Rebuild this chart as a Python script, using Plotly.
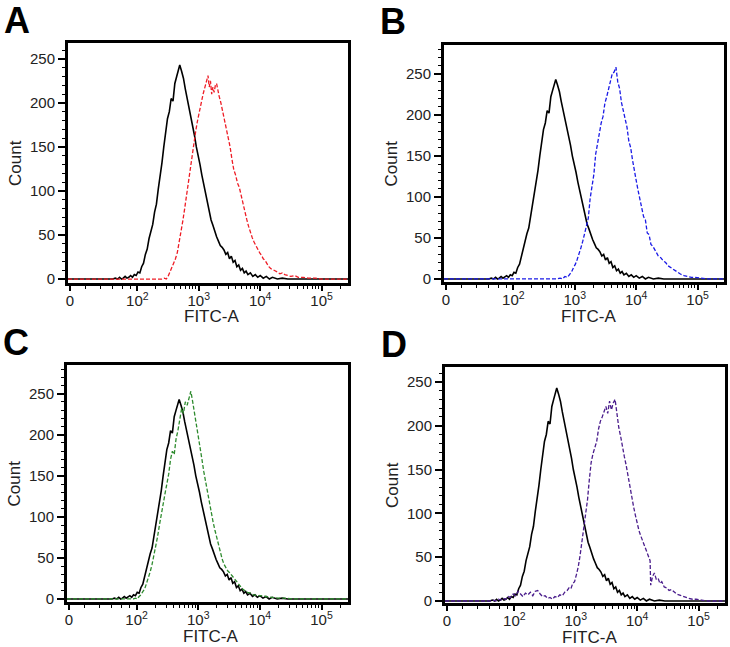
import plotly.graph_objects as go
import math

# ---------------- data (x = log10 display position of FITC-A, y = count) -------------
# control (unstained) histogram, same in every panel
CTRL_X = [0.87, 1.60, 1.64, 1.68, 1.71, 1.74, 1.77, 1.80, 1.83, 1.86, 1.89, 1.92, 1.95, 1.98,
          2.01, 2.04, 2.07, 2.10, 2.13, 2.16, 2.19, 2.22, 2.25, 2.28, 2.31, 2.34, 2.37, 2.40,
          2.43, 2.46, 2.49, 2.52, 2.55, 2.58, 2.61, 2.64, 2.67, 2.69, 2.72, 2.75, 2.78, 2.81,
          2.84, 2.87, 2.90, 2.93, 2.96, 2.99, 3.02, 3.05, 3.08, 3.11, 3.14, 3.17, 3.20, 3.23,
          3.26, 3.29, 3.32, 3.35, 3.38, 3.41, 3.44, 3.47, 3.50, 3.53, 3.56, 3.59, 3.62, 3.65,
          3.68, 3.71, 3.74, 3.77, 3.80, 3.84, 3.88, 3.92, 3.96, 4.00, 4.05, 4.10, 4.15, 4.20,
          4.28, 4.36, 4.45, 5.45]
CTRL_Y = [0, 0, 1, 0, 2, 0, 1, 3, 1, 2, 4, 2, 5, 4,
          8, 7, 14, 18, 28, 34, 46, 55, 62, 76, 85, 102, 115, 132,
          150, 166, 182, 190, 205, 202, 222, 230, 238, 243, 236, 228, 216, 206,
          192, 182, 172, 163, 150, 141, 130, 118, 108, 96, 86, 76, 67, 61,
          54, 48, 43, 38, 36, 33, 28, 30, 23, 26, 19, 21, 14, 16,
          10, 12, 7, 9, 5, 7, 3, 5, 2, 4, 1, 3, 0, 2,
          0, 1, 0, 0]

# panel A (red)
RED_X = [0.87, 2.40, 2.44, 2.47, 2.50, 2.53, 2.56, 2.59, 2.62, 2.65, 2.68, 2.71, 2.74, 2.77,
         2.80, 2.83, 2.86, 2.89, 2.92, 2.95, 2.98, 3.01, 3.04, 3.07, 3.10, 3.13, 3.15, 3.17,
         3.19, 3.21, 3.23, 3.25, 3.27, 3.29, 3.31, 3.33, 3.36, 3.39, 3.42, 3.45, 3.48, 3.51,
         3.54, 3.57, 3.60, 3.63, 3.66, 3.69, 3.72, 3.75, 3.78, 3.81, 3.84, 3.87, 3.90, 3.93,
         3.96, 3.99, 4.02, 4.05, 4.08, 4.11, 4.14, 4.17, 4.20, 4.24, 4.28, 4.32, 4.36, 4.40,
         4.45, 4.50, 4.56, 4.62, 4.70, 4.78, 4.90, 5.00, 5.45]
RED_Y = [0, 0, 1, 0, 3, 8, 12, 17, 23, 30, 42, 50, 66, 80,
         95, 112, 128, 142, 155, 168, 180, 192, 200, 210, 218, 226, 231, 218,
         225, 210, 218, 212, 220, 222, 214, 208, 200, 190, 182, 172, 158, 150,
         136, 124, 118, 109, 104, 94, 86, 77, 68, 60, 53, 47, 42, 38,
         33, 30, 27, 23, 21, 17, 14, 12, 11, 9, 8, 6, 7, 5,
         4, 3, 4, 2, 2, 1, 1, 0, 0]

# panel B (blue)
BLUE_X = [0.87, 2.70, 2.76, 2.80, 2.84, 2.88, 2.92, 2.95, 2.98, 3.01, 3.04, 3.07, 3.10, 3.13,
          3.16, 3.19, 3.22, 3.25, 3.28, 3.31, 3.34, 3.37, 3.40, 3.43, 3.46, 3.49, 3.52, 3.55,
          3.58, 3.61, 3.64, 3.67, 3.70, 3.73, 3.76, 3.79, 3.82, 3.85, 3.88, 3.91, 3.94, 3.97,
          4.00, 4.03, 4.06, 4.09, 4.12, 4.15, 4.18, 4.21, 4.24, 4.27, 4.30, 4.33, 4.36, 4.40,
          4.44, 4.48, 4.52, 4.56, 4.60, 4.64, 4.68, 4.72, 4.78, 4.84, 4.90, 4.96, 5.05, 5.15,
          5.45]
BLUE_Y = [0, 0, 1, 0, 3, 2, 6, 9, 14, 18, 24, 30, 38, 46,
          55, 64, 74, 98, 112, 127, 152, 166, 180, 190, 198, 214, 222, 232,
          238, 250, 252, 258, 240, 232, 215, 205, 194, 185, 168, 160, 145, 130,
          120, 108, 96, 88, 76, 72, 56, 54, 42, 40, 35, 32, 28, 26,
          22, 20, 16, 14, 11, 10, 7, 6, 4, 3, 2, 2, 1, 0,
          0]

# panel C (green)
GREEN_X = [0.87, 1.95, 1.98, 2.01, 2.04, 2.07, 2.10, 2.13, 2.16, 2.19, 2.22, 2.25, 2.28, 2.31,
           2.34, 2.37, 2.40, 2.43, 2.46, 2.49, 2.52, 2.55, 2.58, 2.61, 2.64, 2.67, 2.70, 2.73,
           2.76, 2.79, 2.82, 2.85, 2.88, 2.91, 2.94, 2.97, 3.00, 3.03, 3.06, 3.09, 3.12, 3.15,
           3.18, 3.21, 3.24, 3.27, 3.30, 3.33, 3.36, 3.39, 3.42, 3.45, 3.48, 3.51, 3.54, 3.57,
           3.60, 3.63, 3.66, 3.69, 3.72, 3.76, 3.80, 3.85, 3.90, 3.96, 4.02, 4.10, 4.20, 4.30,
           4.40, 4.55, 5.45]
GREEN_Y = [0, 0, 1, 0, 3, 5, 9, 12, 19, 25, 33, 42, 52, 64,
           76, 90, 104, 116, 128, 140, 152, 170, 180, 176, 195, 205, 220, 232,
           226, 240, 236, 246, 253, 240, 228, 212, 198, 186, 170, 155, 142, 128,
           116, 104, 94, 84, 74, 64, 56, 48, 42, 38, 34, 32, 29, 26,
           24, 20, 17, 15, 12, 10, 8, 7, 5, 4, 4, 3, 2, 1,
           1, 0, 0]

# panel D (purple)
PURPLE_X = [0.87, 1.60, 1.66, 1.70, 1.74, 1.78, 1.82, 1.86, 1.90, 1.94, 1.98, 2.02, 2.06, 2.10,
            2.14, 2.18, 2.22, 2.26, 2.30, 2.34, 2.38, 2.42, 2.46, 2.50, 2.54, 2.58, 2.62, 2.66,
            2.70, 2.74, 2.78, 2.82, 2.86, 2.89, 2.92, 2.95, 2.98, 3.01, 3.04, 3.07, 3.10, 3.13,
            3.16, 3.19, 3.22, 3.25, 3.28, 3.31, 3.34, 3.37, 3.40, 3.43, 3.46, 3.49, 3.52, 3.55,
            3.58, 3.61, 3.64, 3.67, 3.70, 3.73, 3.76, 3.79, 3.82, 3.85, 3.88, 3.91, 3.94, 3.97,
            4.00, 4.03, 4.06, 4.09, 4.12, 4.15, 4.18, 4.21, 4.22, 4.25, 4.28, 4.31, 4.34, 4.37,
            4.40, 4.44, 4.48, 4.52, 4.56, 4.60, 4.64, 4.68, 4.72, 4.78, 4.84, 4.90, 4.96, 5.05,
            5.15, 5.45]
PURPLE_Y = [0, 0, 1, 0, 2, 1, 3, 2, 5, 4, 8, 6, 11, 8,
            5, 9, 7, 10, 6, 11, 12, 8, 5, 6, 3, 4, 2, 5,
            4, 7, 6, 10, 12, 15, 14, 20, 22, 30, 39, 52, 68, 85,
            100, 115, 138, 158, 168, 176, 182, 196, 205, 210, 216, 222, 214, 228,
            218, 226, 230, 212, 198, 188, 174, 165, 155, 142, 130, 120, 108, 98,
            88, 80, 74, 68, 64, 58, 52, 46, 18, 28, 32, 25, 26, 20,
            22, 16, 15, 12, 13, 10, 8, 7, 6, 4, 3, 2, 2, 1,
            0, 0]

X_TICKVALS = [0.9, 2, 3, 4, 5]
X_TICKTEXT = ["0", "10<sup>2</sup>", "10<sup>3</sup>", "10<sup>4</sup>", "10<sup>5</sup>"]
Y_TICKVALS = [0, 50, 100, 150, 200, 250]
PANEL_LABELS = ["A", "B", "C", "D"]

# ---------------- layout geometry ----------------
W, H = 730, 647
FONT = "Arial, Liberation Sans, sans-serif"

panels = [
    dict(lab=PANEL_LABELS[0], x=RED_X, y=RED_Y, col="#ee1c25", box=(68, 348, 43, 283), yr=(-4.5, 268)),
    dict(lab=PANEL_LABELS[1], x=BLUE_X, y=BLUE_Y, col="#1a1ae6", box=(444, 724, 45, 282), yr=(-3.7, 285)),
    dict(lab=PANEL_LABELS[2], x=GREEN_X, y=GREEN_Y, col="#2e8b2e", box=(67, 348, 365, 602), yr=(-3.7, 285)),
    dict(lab=PANEL_LABELS[3], x=PURPLE_X, y=PURPLE_Y, col="#4a1d8c", box=(445, 725, 367, 603), yr=(-2.3, 267)),
]

minor_x = []
for n in (2, 3, 4, 5):
    for k in range(2, 10):
        v = n + math.log10(k)
        if v < 5.43:
            minor_x.append(v)
minor_x += [1.15, 1.4, 1.6, 1.75, 1.88]

fig = go.Figure()
annotations = []
for i, p in enumerate(panels):
    s = "" if i == 0 else str(i + 1)
    x0, x1, y0, y1 = p["box"]
    fig.add_trace(go.Scatter(x=CTRL_X, y=CTRL_Y, mode="lines",
                             line=dict(color="black", width=1.6),
                             xaxis="x" + s, yaxis="y" + s, showlegend=False))
    fig.add_trace(go.Scatter(x=p["x"], y=p["y"], mode="lines",
                             line=dict(color=p["col"], width=1.3, dash="4px,2px"),
                             xaxis="x" + s, yaxis="y" + s, showlegend=False))
    common = dict(showline=True, linecolor="black", linewidth=3, mirror=True,
                  ticks="outside", tickcolor="black", tickwidth=1.5, showgrid=False,
                  zeroline=False, automargin=False,
                  tickfont=dict(family=FONT, size=15, color="#222"))
    fig.update_layout(**{
        "xaxis" + s: dict(domain=[x0 / W, x1 / W], anchor="y" + s, range=[0.87, 5.43],
                          tickmode="array", tickvals=X_TICKVALS, ticktext=X_TICKTEXT,
                          ticklen=5, ticklabelstandoff=-3,
                          minor=dict(tickmode="array", tickvals=minor_x, ticklen=3,
                                     tickcolor="black", ticks="outside", tickwidth=1),
                          **common),
        "yaxis" + s: dict(domain=[1 - y1 / H, 1 - y0 / H], anchor="x" + s, range=list(p["yr"]),
                          tickmode="array", tickvals=Y_TICKVALS, ticklen=7,
                          minor=dict(dtick=10, tick0=0, ticklen=3, tickcolor="black",
                                     ticks="outside", tickwidth=1),
                          **common),
    })
    annotations.append(dict(text="<b>%s</b>" % p["lab"], x=(x0 - 51) / W, y=1 - (y0 - 23) / H,
                            xref="paper", yref="paper", showarrow=False, xanchor="center",
                            yanchor="middle", font=dict(family=FONT, size=36, color="black")))
    annotations.append(dict(text="Count", x=(x0 - 53) / W, y=1 - ((y0 + y1) / 2) / H,
                            xref="paper", yref="paper", showarrow=False, textangle=-90,
                            xanchor="center", yanchor="middle",
                            font=dict(family=FONT, size=17, color="#222")))
    annotations.append(dict(text="FITC-A", x=(x0 + 144) / W, y=1 - (y1 + 34) / H,
                            xref="paper", yref="paper", showarrow=False,
                            xanchor="center", yanchor="middle",
                            font=dict(family=FONT, size=17, color="#222")))

fig.update_layout(width=W, height=H, margin=dict(l=0, r=0, t=0, b=0, autoexpand=False),
                  paper_bgcolor="white", plot_bgcolor="white",
                  annotations=annotations, showlegend=False)
fig.write_html("out.html", config={"displayModeBar": False},
               post_script="document.body.style.margin='0px';document.body.style.overflow='hidden';")
